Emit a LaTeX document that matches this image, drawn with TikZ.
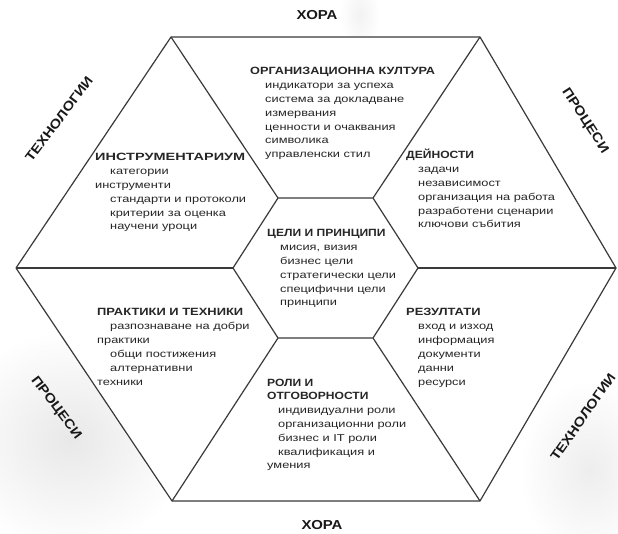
\documentclass[tikz,border=0pt]{standalone}
\usepackage{fontspec}
\usepackage{graphicx}
\setmainfont{Liberation Sans}
\newfontfamily\bodyf[FakeStretch=1.28]{Liberation Sans}
\newfontfamily\headf[FakeStretch=1.15]{Liberation Sans}
\newfontfamily\outf[FakeStretch=1.15]{Liberation Sans}
\newcommand\hd[2][1]{\scalebox{#1}[1]{\headf\bfseries\fontsize{10.5}{12}\selectfont #2}}
\definecolor{edge}{HTML}{3A3A3A}
\tikzset{
  hexline/.style={draw=edge, line width=1.2pt, line join=round},
  txt/.style={inner sep=0pt, anchor=base west, font=\bodyf\fontsize{10}{12}\selectfont, text=black!85},
  outlbl/.style={inner sep=0pt, font=\outf\bfseries\fontsize{13}{14}\selectfont, text=black!90}
}
\newcommand\blk[5]{%
  \def\ind{\hspace*{#4}}%
  \foreach \ln [count=\k from 0] in {#5} {\node[txt] (#1-\k) at (#2, #3+\k*13.8) {\ln};}%
}
\begin{document}
\begin{tikzpicture}[x=1pt, y=-1pt]
\useasboundingbox (0,0) rectangle (618,534);
% faint background smudges
\fill[white] (0,0) rectangle (618,534);
\shade[inner color=black!9, outer color=white] (70,440) ellipse (120 and 110);
\shade[inner color=black!7, outer color=white] (590,470) ellipse (70 and 90);
\shade[inner color=black!5, outer color=white] (360,15) ellipse (20 and 35);
% outer hexagon vertices
\coordinate (A) at (171,37);
\coordinate (B) at (480,37);
\coordinate (C) at (616,268);
\coordinate (D) at (480,501);
\coordinate (E) at (172,501);
\coordinate (F) at (16,268);
% inner hexagon vertices
\coordinate (a) at (278,198);
\coordinate (b) at (373,198);
\coordinate (c) at (418,268);
\coordinate (d) at (373,338);
\coordinate (e) at (278,338);
\coordinate (f) at (233,268);
\fill[white] (A) -- (B) -- (C) -- (D) -- (E) -- (F) -- cycle;
\draw[hexline] (A) -- (B) -- (C) -- (D) -- (E) -- (F) -- cycle;
\draw[hexline] (a) -- (b) -- (c) -- (d) -- (e) -- (f) -- cycle;
\draw[hexline] (a) -- (A);
\draw[hexline] (b) -- (B);
\draw[hexline] (c) -- (C);
\draw[hexline] (d) -- (D);
\draw[hexline] (e) -- (E);
\draw[hexline] (f) -- (F);
% outer labels
\node[outlbl] (hora1) at (317,15) {ХОРА};
\node[outlbl] (hora2) at (322,525) {ХОРА};
\node[outlbl, rotate=53] (tech1) at (59,119) {ТЕХНОЛОГИИ};
\node[outlbl, rotate=-57] (proc1) at (585,121) {ПРОЦЕСИ};
\node[outlbl, rotate=-53] (proc2) at (56,408) {ПРОЦЕСИ};
\node[outlbl, rotate=55] (tech2) at (583,417) {ТЕХНОЛОГИИ};
% text blocks
\blk{org}{250}{75}{15pt}{{\hd[1.05]{ОРГАНИЗАЦИОННА КУЛТУРА}},{\ind индикатори за успеха},{\ind система за докладване},{\ind измервания},{\ind ценности и очаквания},{\ind символика},{\ind управленски стил}}
\blk{ins}{95}{161}{15pt}{{\hd[1.2]{ИНСТРУМЕНТАРИУМ}},{\ind категории},{инструменти},{\ind стандарти и протоколи},{\ind критерии за оценка},{\ind научени уроци}}
\blk{dei}{406}{159}{12pt}{{\hd{ДЕЙНОСТИ}},{\ind задачи},{\ind независимост},{\ind организация на работа},{\ind разработени сценарии},{\ind ключови събития}}
\blk{cel}{267}{237}{13pt}{{\hd{ЦЕЛИ И ПРИНЦИПИ}},{\ind мисия, визия},{\ind бизнес цели},{\ind стратегически цели},{\ind специфични цели},{\ind принципи}}
\blk{pra}{97}{316}{13pt}{{\hd[1.07]{ПРАКТИКИ И ТЕХНИКИ}},{\ind разпознаване на добри},{практики},{\ind общи постижения},{\ind алтернативни},{техники}}
\blk{rez}{406}{316}{12pt}{{\hd[1.07]{РЕЗУЛТАТИ}},{\ind вход и изход},{\ind информация},{\ind документи},{\ind данни},{\ind ресурси}}
\blk{rol}{267}{386}{11pt}{{\hd{РОЛИ И}},{\hd{ОТГОВОРНОСТИ}},{\ind индивидуални роли},{\ind организационни роли},{\ind бизнес и IT роли},{\ind квалификация и},{умения}}
\end{tikzpicture}
\end{document}
